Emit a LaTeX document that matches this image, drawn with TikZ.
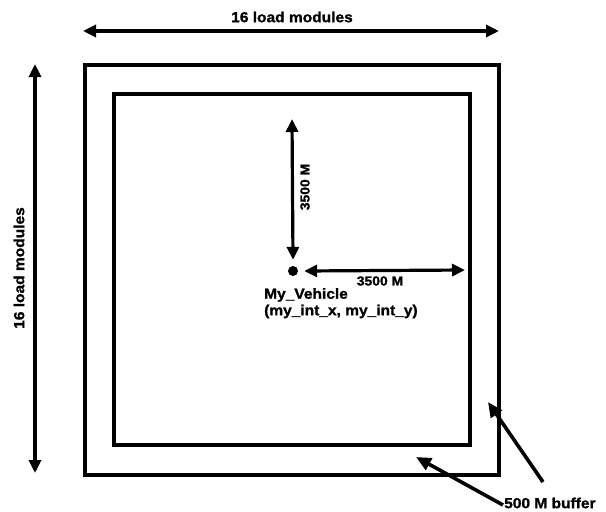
\documentclass[tikz,border=0pt]{standalone}
\usepackage{fontspec}
\setmainfont{Liberation Sans}
\newfontfamily\heavyfont{Liberation Sans Bold}[FakeBold=1.2,FakeStretch=1.07]
\usetikzlibrary{arrows.meta}
\begin{document}
\begin{tikzpicture}[x=1pt,y=-1pt,
  dim/.style={line width=3.2pt,{Triangle[length=13pt,width=12pt]}-{Triangle[length=13pt,width=12pt]}},
  ptr/.style={line width=3.6pt,-{Triangle[length=15pt,width=13pt]}},
  lbl/.style={font=\heavyfont\fontsize{14.5}{16.5}\selectfont,inner sep=1pt},
  sml/.style={font=\heavyfont\fontsize{13}{15}\selectfont,inner sep=1pt}]
\useasboundingbox (0,0) rectangle (606,512);
\draw[line width=3.2pt] (85,65) rectangle (499,475);
\draw[line width=3.2pt] (114,94) rectangle (470,445);
\coordinate (t1) at (83,31);
\coordinate (t2) at (499,31);
\draw[dim] (t1) -- (t2);
\node[lbl] (top) at (292,17) {16 load modules};
\coordinate (l1) at (35,64);
\coordinate (l2) at (35,473);
\draw[dim] (l1) -- (l2);
\node[lbl,rotate=90] (left) at (19,268) {16 load modules};
\node[circle,fill,inner sep=0pt,minimum size=10pt] (dot) at (293,271) {};
\coordinate (v1) at (292,119);
\draw[dim] (v1) -- ([yshift=6pt]dot.north);
\coordinate (h2) at (465,270);
\draw[dim] ([xshift=6pt]dot.east) -- (h2);
\node[sml,rotate=90] (vl) at (305,187) {3500 M};
\node[sml] (hl) at (380,281) {3500 M};
\node[lbl,anchor=north west,align=left] (veh) at (263,287) {My\_Vehicle\\(my\_int\_x, my\_int\_y)};
\node[lbl,anchor=west] (buf) at (503,503) {500 M buffer};
\coordinate (a1) at (416,457);
\coordinate (a2) at (488,402);
\coordinate (b2) at (543,482);
\draw[ptr] ([yshift=-2pt]buf.west) -- (a1);
\draw[ptr] (b2) -- (a2);
\end{tikzpicture}
\end{document}
